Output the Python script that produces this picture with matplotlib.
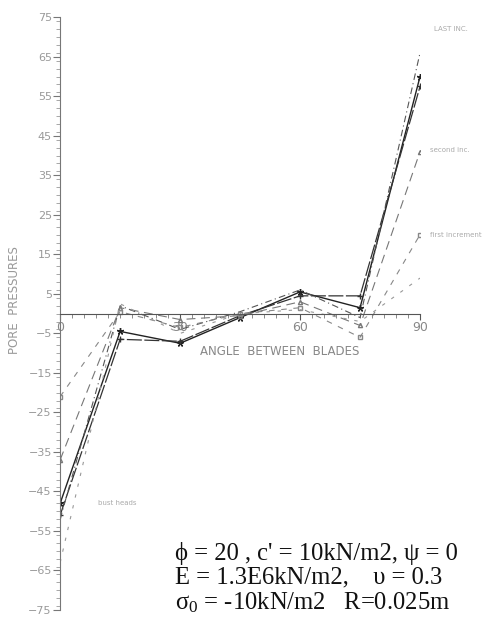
import matplotlib
matplotlib.use("Agg")
import matplotlib.pyplot as plt
from matplotlib.ticker import MultipleLocator

# angle between blades (degrees)
angles = [0, 15, 30, 45, 60, 75, 90]

# pore pressures
last_inc = [-48, -4.5, -7.5, -1, 5.5, 1.5, 60]
last_inc_b = [-51, -6.5, -7, -0.5, 4.5, 4.5, 57.5]
second_inc = [-37, 1.5, -1.5, -0.5, 3, -3, 41]
first_inc = [-21, 0.5, -3.5, 0, 1.5, -6, 20]
bust_heads = [-63, 2.5, -5, 0, 1, -2, 9]
top_dash = [-52, 2, -4, 0.5, 6, -1, 66]

labels = ["LAST INC.", "second inc.", "first increment", "bust heads"]

plt.rcParams["mathtext.fontset"] = "custom"
plt.rcParams["mathtext.rm"] = "Liberation Serif"
plt.rcParams["mathtext.it"] = "Liberation Serif"

fig = plt.figure(figsize=(4.93, 6.18), dpi=100)
ax = fig.add_axes([0.122, 0.013, 0.730, 0.959])

ax.plot(angles, last_inc, color="#222222", lw=1.0, marker=(5, 2, 0), ms=5)
ax.plot(angles, last_inc_b, color="#333333", lw=0.9, marker="+", ms=5,
        dashes=(12, 2))
ax.plot(angles, top_dash, color="#555555", lw=0.8, dashes=(6, 3, 1, 3))
ax.plot(angles, second_inc, color="#777777", lw=0.8, marker="^", ms=3,
        mfc="none", dashes=(8, 5))
ax.plot(angles, first_inc, color="#888888", lw=0.8, marker="s", ms=3,
        mfc="none", dashes=(5, 6))
ax.plot(angles, bust_heads, color="#999999", lw=0.8, dashes=(3, 7))

ax.set_xlim(0, 90)
ax.set_ylim(-75, 75)

ax.spines["top"].set_visible(False)
ax.spines["right"].set_visible(False)
ax.spines["bottom"].set_position(("data", 0))
ax.spines["left"].set_color("#777777")
ax.spines["bottom"].set_color("#555555")

ax.set_yticks(range(-75, 76, 10))
ax.yaxis.set_minor_locator(MultipleLocator(2))
ax.xaxis.set_major_locator(MultipleLocator(30))
ax.xaxis.set_minor_locator(MultipleLocator(3))
ax.tick_params(axis="y", which="major", direction="out", length=5,
               color="#777777", labelsize=8, labelcolor="#999999", pad=1)
ax.tick_params(axis="y", which="minor", direction="out", length=3,
               color="#999999")
ax.tick_params(axis="x", which="major", direction="out", length=4,
               color="#555555", labelsize=9, labelcolor="#888888", pad=1)
ax.tick_params(axis="x", which="minor", direction="out", length=3,
               color="#777777")

ax.text(55, -9.6, "ANGLE  BETWEEN  BLADES", ha="center", va="center",
        fontsize=8.5, color="#888888")
fig.text(0.030, 0.515, "PORE  PRESSURES", rotation=90, ha="center",
         va="center", fontsize=8.5, color="#999999")

ax.text(93.5, 71.5, labels[0], fontsize=5, color="#aaaaaa", clip_on=False)
ax.text(92.5, 41, labels[1], fontsize=5, color="#aaaaaa", clip_on=False)
ax.text(92.5, 19.5, labels[2], fontsize=5, color="#aaaaaa", clip_on=False)
ax.text(9.5, -48.5, labels[3], fontsize=5, color="#aaaaaa")

params = ["\u03d5 = 20 , c' = 10kN/m2, \u03c8 = 0",
          "E = 1.3E6kN/m2,    \u03c5 = 0.3",
          "\u03c3$_0$ = -10kN/m2   R=0.025m"]
for i, line in enumerate(params):
    fig.text(0.355, 0.105 - i * 0.040, line, fontsize=17.7,
             family="Liberation Serif", color="#111111", va="center")

fig.savefig("out.png", dpi=100)
